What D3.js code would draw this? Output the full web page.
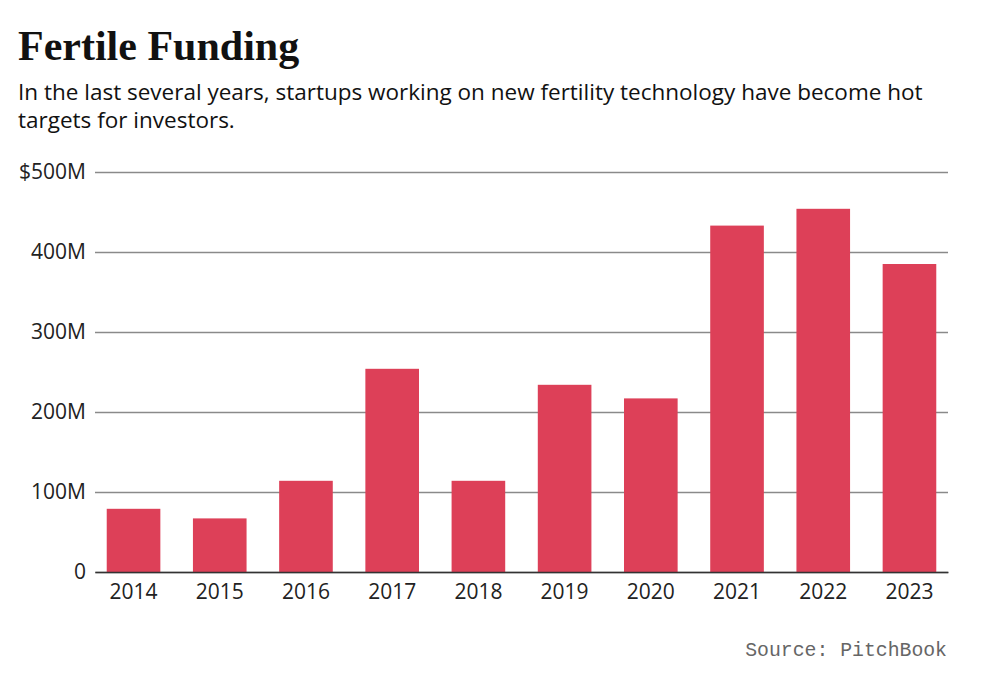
<!DOCTYPE html>
<html>
<head>
<meta charset="utf-8">
<script src="https://cdn.jsdelivr.net/npm/d3@7"></script>
<style>
  body { margin: 0; background: #fff; }
</style>
</head>
<body>
<svg id="chart"></svg>
<script>
// data, millions of dollars
const years = ['2014', '2015', '2016', '2017', '2018', '2019', '2020', '2021', '2022', '2023'];
const funding = [79, 67, 114, 254, 114, 234, 217, 433, 454, 385];
const yTicks = [0, 100, 200, 300, 400, 500];

const W = 1000, H = 686;
const margin = {top: 172, right: 52, bottom: 114, left: 95};
const innerW = W - margin.left - margin.right;
const innerH = H - margin.top - margin.bottom;

const svg = d3.select('#chart')
    .attr('width', W)
    .attr('height', H);

// titles
svg.append('text')
    .attr('x', 18).attr('y', 60)
    .style('font-family', '"Liberation Serif", serif')
    .style('font-weight', 'bold')
    .style('font-size', '42px')
    .style('fill', '#111')
    .text('Fertile Funding');

const sub = ['In the last several years, startups working on new fertility technology have become hot',
             'targets for investors.'];
svg.selectAll('text.sub')
    .data(sub)
    .enter().append('text')
    .attr('class', 'sub')
    .attr('x', 18)
    .attr('y', (d, i) => 100 + i * 28)
    .style('font-family', '"Open Sans", sans-serif')
    .style('font-size', '22.5px')
    .style('fill', '#111')
    .text(d => d);

const g = svg.append('g')
    .attr('transform', 'translate(' + margin.left + ',' + margin.top + ')');

const x = d3.scaleBand()
    .domain(years)
    .range([0, innerW])
    .paddingInner(0.378)
    .paddingOuter(0.136);

const y = d3.scaleLinear()
    .domain([0, 500])
    .range([innerH, 0]);

// gridlines + y labels
const yAxis = g.append('g')
    .call(d3.axisLeft(y)
        .tickValues(yTicks)
        .tickSize(-innerW)
        .tickPadding(9)
        .tickFormat(d => d === 0 ? '0' : (d === 500 ? '$' + d + 'M' : d + 'M')));
yAxis.select('.domain').remove();
yAxis.selectAll('.tick line')
    .attr('stroke', '#8a8a8a')
    .attr('stroke-width', 1.5);
yAxis.selectAll('.tick text')
    .style('font-family', '"Open Sans", sans-serif')
    .style('font-size', '21px')
    .style('fill', '#222');

// bars
g.selectAll('rect.bar')
    .data(funding)
    .enter().append('rect')
    .attr('class', 'bar')
    .attr('x', (d, i) => x(years[i]))
    .attr('y', d => y(d))
    .attr('width', x.bandwidth())
    .attr('height', d => innerH - y(d))
    .attr('fill', '#dd4058');

// baseline + year labels
const xAxis = g.append('g')
    .attr('transform', 'translate(0,' + innerH + ')')
    .call(d3.axisBottom(x).tickSize(0).tickPadding(12));
xAxis.select('.domain')
    .attr('stroke', '#333')
    .attr('stroke-width', 1.5);
xAxis.selectAll('.tick text')
    .style('font-family', '"Open Sans", sans-serif')
    .style('font-size', '21px')
    .style('fill', '#222');

// source
svg.append('text')
    .attr('x', 947).attr('y', 656)
    .attr('text-anchor', 'end')
    .style('font-family', '"Liberation Mono", monospace')
    .style('font-size', '19.8px')
    .style('fill', '#666')
    .text('Source: PitchBook');
</script>
</body>
</html>
